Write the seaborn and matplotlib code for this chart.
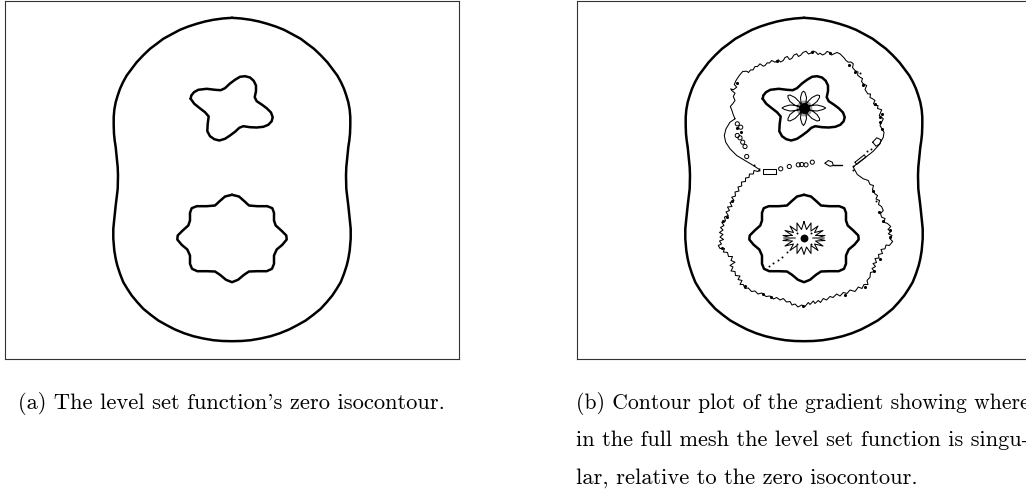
import pandas as pd
import matplotlib
matplotlib.use('Agg')
import matplotlib.pyplot as plt
import seaborn as sns

# contours, in panel units (1 unit = 1 px, y pointing down)
outer = [(227,17.3),(217.7,18),(208.3,19.3),(200,21),(191.7,23.3),(183.3,26),(175,29.3),(166.7,33.7),(158.3,38.3),
         (151.7,43.3),(145,48.3),(138.3,54.7),(131.7,61.7),(126.7,68.3),(121.7,75),(118,81.7),(115,88.3),(112.7,95),
         (110.7,101.7),(109.3,109.3),(108.7,116.7),(108.7,125),(109,133.3),(109.7,140),(110.7,146.7),(111.7,156.7),
         (112.7,166.7),(113,175),(112.7,188.3),(111.7,196.7),(110.7,205),(109.3,218.3),(108.3,228.3),(108.3,238.3),
         (109.3,250),(110.7,258.3),(112.3,265),(115,273.3),(118.3,281.7),(122.3,288.3),(126.7,295),(132.3,301.7),
         (138.3,308.3),(145.7,314.3),(153.3,320),(161.7,324.7),(170,329),(179,332.7),(188.3,335.7),(198.3,338),
         (208.3,339.7),(217.7,340.5),(227,340.7),(236.3,340.5),(245.7,339.7),(255.7,338),(265.7,335.7),(275,332.7),
         (284,329),(292.3,324.7),(300.7,320),(308.3,314.3),(315.7,308.3),(321.7,301.7),(327.3,295),(331.7,288.3),
         (335.7,281.7),(339,273.3),(341.7,265),(343.3,258.3),(344.7,250),(345.7,238.3),(345.7,228.3),(344.7,218.3),
         (343.3,205),(342.3,196.7),(341.3,188.3),(341,175),(341.3,166.7),(342.3,156.7),(343.3,146.7),(344.3,140),
         (345,133.3),(345.3,125),(345.3,116.7),(344.7,109.3),(343.3,101.7),(341.3,95),(339,88.3),(336,81.7),
         (332.3,75),(327.3,68.3),(322.3,61.7),(315.7,54.7),(309,48.3),(302.3,43.3),(295.7,38.3),(287.3,33.7),
         (279,29.3),(270.7,26),(262.3,23.3),(254,21),(245.7,19.3),(236.3,18)]

upper_hole = [(185.7,98.3),(186.3,95),(189,91.7),(193.3,89.3),(201.7,88.3),(210,89.3),(215.7,89.7),(220,87.7),(225,83),
              (230,79.3),(235,76.3),(240,75.7),(245,77),(248.7,80.3),(251,85),(251,90.7),(249.7,96.7),(251.7,100.7),
              (256.7,104),(261.7,107.7),(266,112),(267.7,116.7),(266.7,120.7),(263.3,124.3),(258.3,126.3),(251.7,127),
              (245,126.7),(238.3,125.7),(234.3,127.3),(230,131.3),(225,135),(220,138.3),(214.3,140),(209.3,138.7),
              (205,135.7),(202.3,130.7),(202.7,123.3),(203.7,116),(200,111.7),(194.3,107.3),(189.3,103.3)]

lower_hole = [(227,194.3),(220,196),(214.3,201),(210,205),(201.7,205.7),(191.7,205.7),(186.7,207.7),(185,212.3),(185,220),
              (183.3,225),(177.7,230),(172.7,235),(172.3,239),(176.7,244.3),(182.3,249),(185,255),(185,263.3),(187,268.3),
              (192.3,270.7),(201.7,270.7),(210,271),(215,274.3),(221,279.3),(227,281.7),(233,279.3),(239,274.3),(244,271),
              (252.3,270.7),(261.7,270.7),(267,268.3),(269,263.3),(269,255),(271.7,249),(277.3,244.3),(281.7,239),
              (281.3,235),(276.3,230),(270.7,225),(269,220),(269,212.3),(267.3,207.7),(262.3,205.7),(252.3,205.7),
              (244,205),(239.7,201),(234,196)]

singular_line = [(158,118.3),(156.3,114.3),(154.7,109.3),(153.3,106),(155.7,103.3),(158,100),(156.3,96),(158,92.7),
                 (154.7,90),(153.7,88.3),(156.3,89.3),(159.7,86.7),(157.3,84),(159,80),(162.3,75),(165.7,71),(169.7,70.7),
                 (171.5,72),(173.7,69.3),(176,69.5),(178,66),(180.5,66),(183,63.3),(186.3,65.7),(188,65),(190.3,62.3),
                 (192.5,62.5),(194.7,60),(198,61.7),(201.3,59.3),(203.5,61.5),(206.3,60),(208,57),(210.3,56),(212.5,59),
                 (214.7,58),(217,54.5),(219.7,53.3),(221.5,56),(223.7,54.7),(226,52),(229,50.7),(231.5,53.5),(233.7,52.7),
                 (236,50.5),(239,51.7),(241,54),(243,52.7),(245.5,54.5),(248,53.3),(250,51),(252.3,51.7),(254.5,54.5),
                 (257,53.3),(260,52),(263,53.3),(267,57.3),(269,60),(271.3,61.7),(274,61.5),(276.3,63.3),(275.5,67),(278,70),
                 (281,71.5),(280.5,74.5),(283,76.7),(285.5,78),(284.5,81),(286.3,83.3),(289.7,85),(288,89),(290.7,93.3),
                 (293.5,93.5),(293,97),(295.7,98.3),(298,100),(296.5,103),(298,105),(301,105),(300.5,108),(304.7,109.3),
                 (302.3,115),(306.3,118.3),(303,125),(307,131.7),(306.3,136.7),(302.3,144),(296.3,150.7),(288,157.3),
                 (279.7,163.3),(276.3,166.7),(280.3,174),(286.3,178.3),(291.3,180),(293,184),(296.5,185),(295.5,189),
                 (298,193.3),(300.5,195),(299,198.5),(302.5,200),(301.5,204),(304.5,206),(306.3,210),(303.5,213),(304.7,216.7),
                 (308,218),(307,221.7),(310.5,223),(313.7,226),(311,229),(314,231),(311.3,233.3),(315,235),(313,238.3),
                 (315.7,241),(312.3,245),(309,244.5),(308,248.3),(304,249),(305.5,253),(301.5,254),(302,257.5),(298,258),
                 (299.5,262),(296,263),(298.5,266),(295,268),(297.5,271),(293.5,272),(293,276.7),(290,280),(291,284),(287,284),
                 (285,288),(281.3,286.5),(278,291),(273,289.5),(270,293),(266.3,292),(263,295.5),(259.7,293.5),(256,297),
                 (253,296),(249.5,299.5),(246.3,298),(243.5,302),(241.3,300),(238,303),(236.3,300.5),(233,304),(231.3,302),
                 (228,306),(224.7,304.5),(221,306.5),(218,303.5),(215,304.5),(213,301),(209.5,301.5),(206.3,298),(203,299.5),
                 (199.7,297),(196.5,298.5),(193,295.5),(189,296),(184.7,292.5),(181,293.5),(178,290.5),(174.5,291),(171.3,287.5),
                 (168,288),(166.3,284),(163,284),(165,280),(161,279),(163,275.5),(158.5,275),(158,271),(154,270.5),(156,266.5),
                 (153,265),(158,261.7),(154,260),(155.5,256),(151.5,256),(150.5,252),(146.3,251.5),(147.5,248),(143,248),
                 (141.3,245),(144.5,243.5),(142.5,240.5),(146.5,239),(143,236.5),(146,234),(142.5,232),(146,229.5),(143.5,227),
                 (147,225),(144.7,221.7),(148.5,220.5),(147.5,216.5),(151.3,215),(149,211.5),(152.5,210),(150.5,206.5),(155,206),
                 (153,202),(157,200),(154.7,196.7),(158.5,195.5),(158,191.5),(162,190.5),(161,186.5),(164.7,185.5),(164.5,181.5),
                 (168.5,181),(168.5,177.5),(172,177),(172.5,173.5),(176.3,173.5),(177,170),(181,171),(183,168.5),(181.3,168.3),
                 (176.3,165),(168,160),(159.7,155),(153,148.3),(148.7,141.7),(147.3,135),(149,128.3),(153,121.7)]

blob_rect = [(186.3,168.3),(198.7,168.3),(198.7,173.3),(186.3,173.3)]
blob_slant = [(278,161.7),(287.3,154.3),(288.7,156.7),(279.7,164)]
blob_right = [(295.7,141.7),(299.7,137.3),(304,139.3),(303,143.3),(299,145.7)]
blob_mid = [(248,162.7),(251.3,160),(255.3,161.7),(256.3,165),(253,165.7),(249.7,164)]
blob_tail = [(256.3,164),(264.7,164)]
star_streak_left = [(207,237.7),(218,237.7)]
star_streak_right = [(236,237.7),(247,237.7)]

upper_flower = [(226.5,107.5),(224,102),(223.5,97),(225,92),(226.5,90.7),(228,92),(229.5,97),(229,102),
                (226.5,107.5),(231,101),(235,97),(240,94.5),(242.5,95),(242.5,97),(240,101),(235,105),
                (226.5,107.5),(233,105),(240,104.5),(246,106),(248.7,107.5),(246,109),(240,110.5),(233,110),
                (226.5,107.5),(235,110),(240,114),(242.5,118),(242.5,120),(240,120.5),(235,118),(231,114),
                (226.5,107.5),(229,113),(229.5,118),(228,123),(226.5,125),(225,123),(223.5,118),(224,113),
                (226.5,107.5),(222,114),(218,118),(213,120.5),(211,120),(211,118),(213,114),(218,110),
                (226.5,107.5),(220,110),(213,110.5),(207.5,109),(205,107.5),(207.5,106),(213,104.5),(220,105),
                (226.5,107.5),(218,105),(213,101),(211,97),(211,95),(213,94.5),(218,97),(222,101)]

lower_star = [(227,221),(229.5,229),(234,222.5),(234,230.5),(241,225.5),(237.5,232),(246,230),(238.5,235),(248,235),
              (239,237.7),(248,240),(238.5,240.5),(246,245.5),(237.5,243.5),(241,250),(234,245),(234,253),(229.5,246.5),
              (227,254),(224.5,246.5),(220,253),(220,245),(213,250),(216.5,243.5),(208,245.5),(215.5,240.5),(206,240),
              (215,237.7),(206,235),(215.5,235),(208,230),(216.5,232),(213,225.5),(220,230.5),(220,222.5),(224.5,229)]

bubbles = [(203.7,168.3),(212.3,166),(235.3,161.7),(221.3,164.3),(224.7,164),(229,164.3),(169.7,156),(160.3,135),
           (163,137.3),(165.7,141.7),(168,146),(163.7,126.7),(160.3,123.3)]
beads = [(159.7,82.7),(199.7,60.7),(234.7,51.7),(253,52.3),(272.3,64),(278,71.7),(285.7,84),(298,103.3),(303,116.7),
         (304.7,128.3),(154.7,200),(149.7,216.7),(146.3,220),(144.7,247.3),(168,285),(185.7,293.3),(193.7,296),
         (226.3,305),(268,294),(288,286.7),(297,270),(303,258.3),(313,236.7),(313,229.3),(306.3,220),(302.3,211.7),
         (295.7,190.7),(305,113),(303,121),(160,127),(164,131)]
specks = [(177,164),(182,169),(289.7,150.7),(293.7,148.3),(276.3,165.7),(276.3,169),(209.7,251.7),(204.7,256),
          (200.7,259.3),(196.3,262.7),(192.3,265.7),(220,232),(234,232),(220,243),(234,243),(286,83),(283,72),(299,200)]
core_upper = [(226.5,107.5)]
core_lower = [(227,237.7)]

caption_a = "(a) The level set function's zero isocontour."
caption_b = ["(b) Contour plot of the gradient showing where",
             "in the full mesh the level set function is singu-",
             "lar, relative to the zero isocontour."]
caption_b_sizes = [15.6, 16.1, 16.2]
caption_b_rows = [409, 446, 484]


def draw_curve(ax, pts, lw, closed=True, color='black'):
    df = pd.DataFrame(pts + pts[:1] if closed else pts, columns=['x', 'y'])
    sns.lineplot(data=df, x='x', y='y', sort=False, estimator=None, color=color,
                 linewidth=lw, ax=ax, legend=False)


def draw_points(ax, pts, size, filled=True, color='black'):
    df = pd.DataFrame(pts, columns=['x', 'y'])
    sns.scatterplot(data=df, x='x', y='y', s=size, color=color if filled else 'none',
                    edgecolor='black', linewidth=0.0 if filled else 0.7, ax=ax, legend=False)


def setup_panel(ax):
    ax.set_xlim(0, 454)
    ax.set_ylim(358, 0)
    ax.set_xticks([])
    ax.set_yticks([])
    ax.set_xlabel('')
    ax.set_ylabel('')
    for s in ax.spines.values():
        s.set_color('#333333')
        s.set_linewidth(0.8)


sns.set_theme(style="white")
plt.rcParams['font.family'] = ['cmr10', 'DejaVu Serif']

fig = plt.figure(figsize=(10.26, 4.94), dpi=100)
ax_a = fig.add_axes([5 / 1026, 135.5 / 494, 454 / 1026, 358 / 494])
ax_b = fig.add_axes([577 / 1026, 135.5 / 494, 454 / 1026, 358 / 494])

for ax in (ax_a, ax_b):
    draw_curve(ax, outer, 1.8)
    draw_curve(ax, upper_hole, 1.8)
    draw_curve(ax, lower_hole, 1.8)

# gradient contours only on the right panel
draw_curve(ax_b, singular_line, 0.75)
for blob in (blob_rect, blob_slant, blob_right, blob_mid):
    draw_curve(ax_b, blob, 0.75)
draw_curve(ax_b, blob_tail, 1.0, closed=False)
draw_points(ax_b, core_upper, 130, color='#a0a0a0')
draw_curve(ax_b, upper_flower, 0.75)
draw_curve(ax_b, lower_star, 0.75)
draw_curve(ax_b, star_streak_left, 1.4, closed=False, color='#777777')
draw_curve(ax_b, star_streak_right, 1.4, closed=False, color='#777777')
draw_points(ax_b, bubbles, 9, filled=False)
draw_points(ax_b, beads, 5)
draw_points(ax_b, specks, 2)
draw_points(ax_b, core_upper, 62)
draw_points(ax_b, core_lower, 32)

setup_panel(ax_a)
setup_panel(ax_b)

fig.text(18 / 1026, 1 - 409 / 494, caption_a, fontsize=16.2, color='black', va='baseline')
for line, size, y in zip(caption_b, caption_b_sizes, caption_b_rows):
    fig.text(576.5 / 1026, 1 - y / 494, line, fontsize=size, color='black', va='baseline')

plt.savefig('out.png', dpi=100)
